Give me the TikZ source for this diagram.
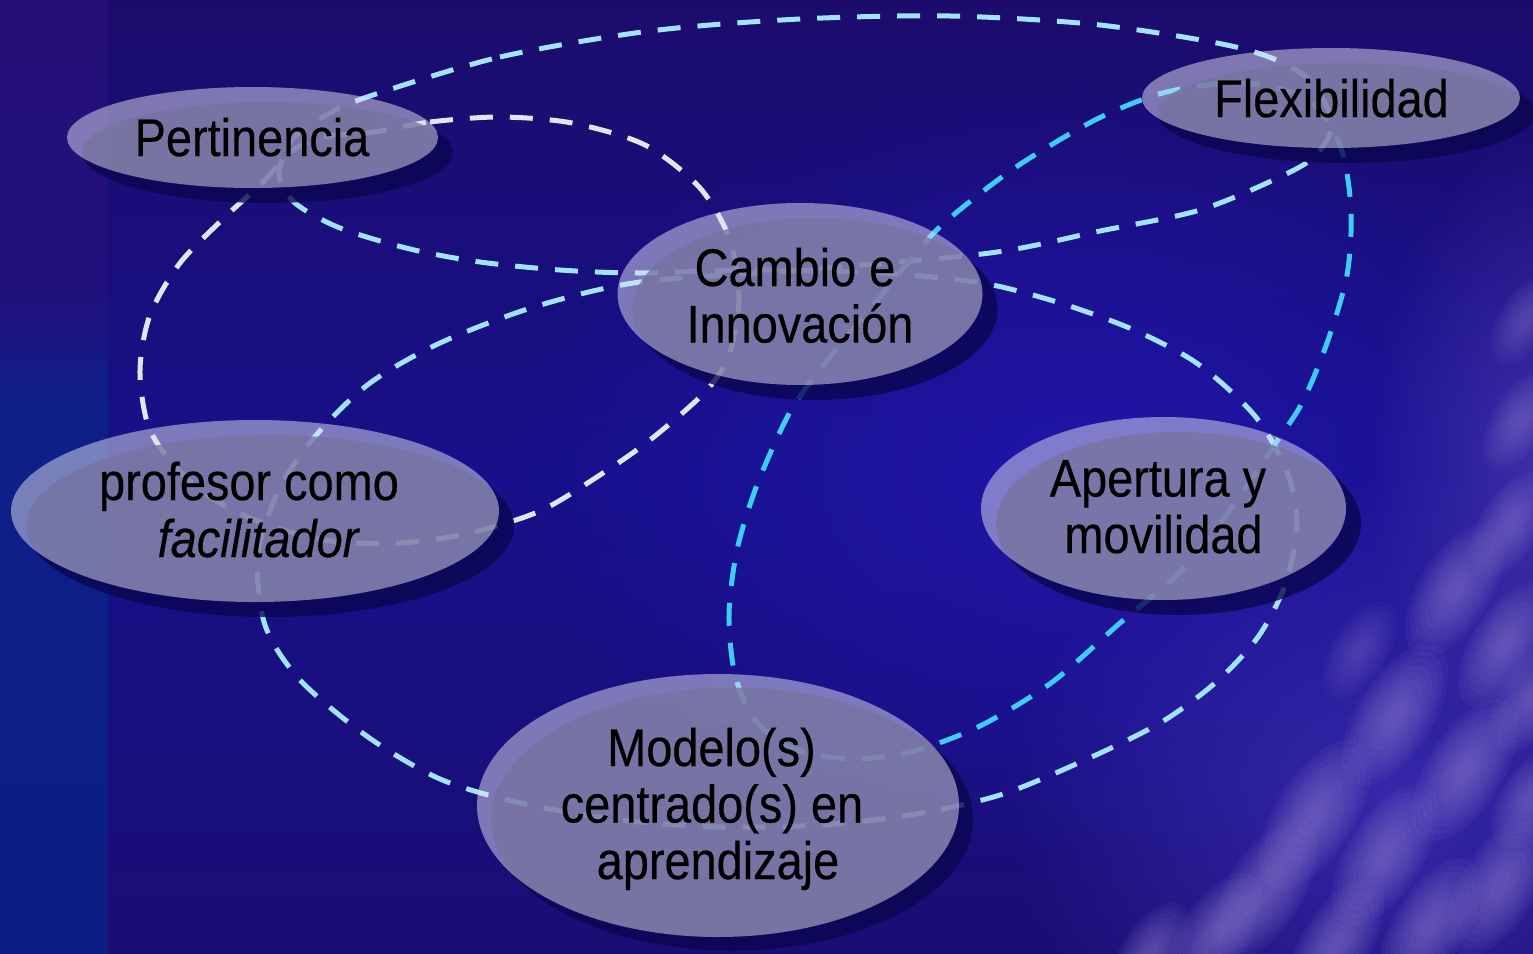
\documentclass[tikz,border=0pt]{standalone}
\usepackage{fontspec}
\setmainfont{Liberation Sans}[FakeStretch=0.885, FakeBold=0.35]
\usetikzlibrary{shapes.geometric,fadings}
\definecolor{bgtop}{HTML}{1B0C6C}
\definecolor{bgmid}{HTML}{17108A}
\definecolor{bgbot}{HTML}{1A0E74}
\definecolor{glowc}{HTML}{2418B6}
\definecolor{hazeR}{HTML}{4A38B0}
\definecolor{hazeL}{HTML}{3A2CB0}
\definecolor{blobc}{HTML}{9484D4}
\definecolor{lstripA}{HTML}{2D0F70}
\definecolor{lstripB}{HTML}{22107C}
\definecolor{lstripC}{HTML}{0E1F88}
\definecolor{lstripD}{HTML}{0A1B80}
\definecolor{lineA}{HTML}{A0E4FF}
\definecolor{lineB}{HTML}{DDE8EF}
\definecolor{lineC}{HTML}{3DCDF5}
\definecolor{shad}{HTML}{0A0650}
\definecolor{ellfill}{HTML}{E2E2F2}
\pgfdeclareverticalshading{lstrip}{100bp}{color(0bp)=(lstripD); color(54bp)=(lstripC); color(60bp)=(lstripB); color(100bp)=(lstripA)}
\tikzfading[name=softedge, inner color=transparent!0, outer color=transparent!100]
\newcommand\softblob[5]{%
  \foreach \k in {0,...,8}{%
    \pgfmathsetmacro\brx{#3*(1-\k*0.1)}%
    \pgfmathsetmacro\bry{#4*(1-\k*0.1)}%
    \fill[blobc, fill opacity=#5, rotate around={58:(#1,#2)}] (#1,#2) ellipse [x radius=\brx pt, y radius=\bry pt];}}
\begin{document}
\begin{tikzpicture}[x=1pt,y=-1pt,
  wave/.style={line width=5pt, dash pattern=on 23pt off 17pt, line cap=butt},
  curveA/.style={wave, draw=lineA},
  curveB/.style={wave, draw=lineB},
  curveC/.style={wave, draw=lineC},
  bubble/.style={ellipse, inner sep=0pt, draw=none, fill=ellfill, fill opacity=0.5},
  bubshadow/.style={ellipse, inner sep=0pt, draw=none, fill=shad, fill opacity=0.8},
  lbl/.style={anchor=base, inner sep=0pt, outer sep=0pt, text=black, font=\fontsize{53}{57}\selectfont}]
\useasboundingbox (0,0) rectangle (1533,953);
\clip (0,0) rectangle (1533,953);
% ---------- background ----------
\fill[top color=bgtop, bottom color=bgbot, middle color=bgmid] (0,0) rectangle (1533,953);
\fill[glowc, path fading=softedge, fill opacity=0.7] (1080,470) ellipse [x radius=560pt, y radius=400pt];
\fill[hazeL, path fading=softedge, fill opacity=0.9] (1400,800) ellipse [x radius=400pt, y radius=330pt];
\fill[hazeR, path fading=softedge, fill opacity=0.8] (1545,470) ellipse [x radius=180pt, y radius=340pt];
\fill[shading=lstrip] (0,0) rectangle (108,953);
\softblob{1455}{590}{75}{36}{0.075}
\softblob{1505}{645}{70}{34}{0.075}
\softblob{1395}{715}{80}{38}{0.08}
\softblob{1465}{770}{80}{38}{0.08}
\softblob{1530}{700}{60}{32}{0.07}
\softblob{1315}{815}{85}{40}{0.08}
\softblob{1385}{855}{80}{38}{0.08}
\softblob{1265}{890}{80}{38}{0.08}
\softblob{1215}{935}{70}{34}{0.08}
\softblob{1500}{885}{80}{38}{0.08}
\softblob{1430}{925}{75}{36}{0.08}
\softblob{1335}{945}{75}{34}{0.08}
\softblob{1150}{955}{60}{30}{0.07}
\softblob{1530}{800}{55}{30}{0.07}
\softblob{1510}{525}{60}{30}{0.065}
\softblob{1520}{420}{55}{28}{0.06}
\softblob{1525}{320}{50}{26}{0.05}
\softblob{1360}{650}{55}{28}{0.045}
% ---------- curve waypoints ----------
\coordinate (A1) at (373,95);   \coordinate (A2) at (500,57);   \coordinate (A3) at (650,31);
\coordinate (A4) at (800,19);   \coordinate (A5) at (950,16);   \coordinate (A6) at (1100,25);
\coordinate (A7) at (1240,48);  \coordinate (A8) at (1305,76);  \coordinate (A9) at (1332,122);
\coordinate (A10) at (1316,155); \coordinate (A11) at (1282,176); \coordinate (A12) at (1200,210);
\coordinate (A13) at (1100,231); \coordinate (A14) at (990,253);  \coordinate (A15) at (800,270);
\coordinate (A16) at (640,282);  \coordinate (A17) at (534,307);  \coordinate (A18) at (440,343);
\coordinate (A19) at (370,383);  \coordinate (A20) at (318,433);  \coordinate (A21) at (280,487);
\coordinate (A22) at (258,555);  \coordinate (A23) at (265,625);  \coordinate (A24) at (300,680);
\coordinate (A25) at (368,737);  \coordinate (A26) at (440,779);  \coordinate (A27) at (520,803);
\coordinate (A28) at (620,820);  \coordinate (A29) at (720,827);  \coordinate (A30) at (820,825);
\coordinate (A31) at (910,815);  \coordinate (A32) at (1000,795); \coordinate (A33) at (1085,760);
\coordinate (A34) at (1160,723); \coordinate (A35) at (1215,683); \coordinate (A36) at (1258,637);
\coordinate (A37) at (1285,585); \coordinate (A38) at (1297,525); \coordinate (A39) at (1287,472);
\coordinate (A40) at (1255,416); \coordinate (A41) at (1198,364); \coordinate (A42) at (1134,330);
\coordinate (A43) at (1060,303); \coordinate (A44) at (982,283);  \coordinate (A45) at (880,273);
\coordinate (A46) at (750,270);  \coordinate (A47) at (640,273);  \coordinate (A48) at (560,270);
\coordinate (A49) at (480,262);  \coordinate (A50) at (410,249);  \coordinate (A51) at (340,228);
\coordinate (A52) at (295,203);  \coordinate (A53) at (279,175);  \coordinate (A54) at (292,140);
\coordinate (A55) at (330,113);
\coordinate (B1) at (368,133);  \coordinate (B2) at (430,122);  \coordinate (B3) at (500,117);
\coordinate (B4) at (572,123);  \coordinate (B5) at (645,145);  \coordinate (B6) at (700,188);
\coordinate (B7) at (730,240);  \coordinate (B8) at (739,300);  \coordinate (B9) at (729,355);
\coordinate (B10) at (705,392); \coordinate (B11) at (650,440); \coordinate (B12) at (600,475);
\coordinate (B13) at (540,511); \coordinate (B14) at (470,533); \coordinate (B15) at (400,543);
\coordinate (B16) at (330,541); \coordinate (B17) at (265,524); \coordinate (B18) at (210,497);
\coordinate (B19) at (172,463); \coordinate (B20) at (148,425); \coordinate (B21) at (140,370);
\coordinate (B22) at (150,315); \coordinate (B23) at (180,263); \coordinate (B24) at (225,217);
\coordinate (B25) at (262,183); \coordinate (B26) at (293,150); \coordinate (B27) at (328,136);
\coordinate (C1) at (951,217);  \coordinate (C2) at (1016,167); \coordinate (C3) at (1095,120);
\coordinate (C4) at (1159,94);  \coordinate (C5) at (1217,84);  \coordinate (C6) at (1262,85);
\coordinate (C7) at (1312,102); \coordinate (C8) at (1341,148); \coordinate (C9) at (1351,210);
\coordinate (C10) at (1347,275); \coordinate (C11) at (1327,343); \coordinate (C12) at (1302,403);
\coordinate (C13) at (1273,447); \coordinate (C14) at (1230,510); \coordinate (C15) at (1180,572);
\coordinate (C16) at (1120,623); \coordinate (C17) at (1051,683); \coordinate (C18) at (978,727);
\coordinate (C19) at (910,752);  \coordinate (C20) at (850,759);  \coordinate (C21) at (792,748);
\coordinate (C22) at (755,720);  \coordinate (C23) at (735,675);  \coordinate (C24) at (729,615);
\coordinate (C25) at (737,550);  \coordinate (C26) at (757,485);  \coordinate (C27) at (790,412);
\coordinate (C28) at (826,362);  \coordinate (C29) at (876,302);  \coordinate (C30) at (921,247);
% ---------- dashed loops ----------
\draw[curveB] plot[smooth cycle] coordinates {(B1) (B2) (B3) (B4) (B5) (B6) (B7) (B8) (B9) (B10) (B11) (B12) (B13) (B14) (B15) (B16) (B17) (B18) (B19) (B20) (B21) (B22) (B23) (B24) (B25) (B26) (B27)};
\draw[curveA] plot[smooth cycle] coordinates {(A1) (A2) (A3) (A4) (A5) (A6) (A7) (A8) (A9) (A10) (A11) (A12) (A13) (A14) (A15) (A16) (A17) (A18) (A19) (A20) (A21) (A22) (A23) (A24) (A25) (A26) (A27) (A28) (A29) (A30) (A31) (A32) (A33) (A34) (A35) (A36) (A37) (A38) (A39) (A40) (A41) (A42) (A43) (A44) (A45) (A46) (A47) (A48) (A49) (A50) (A51) (A52) (A53) (A54) (A55)};
\draw[curveC] plot[smooth cycle] coordinates {(C1) (C2) (C3) (C4) (C5) (C6) (C7) (C8) (C9) (C10) (C11) (C12) (C13) (C14) (C15) (C16) (C17) (C18) (C19) (C20) (C21) (C22) (C23) (C24) (C25) (C26) (C27) (C28) (C29) (C30)};
% ---------- shadows ----------
\node[bubshadow, minimum width=371pt, minimum height=101pt] (pert-sh) at (267.5,152.5) {};
\node[bubshadow, minimum width=378pt, minimum height=100pt] (flex-sh) at (1346,113) {};
\node[bubshadow, minimum width=365pt, minimum height=182pt] (camb-sh) at (815,309) {};
\node[bubshadow, minimum width=488pt, minimum height=182pt] (prof-sh) at (270,526) {};
\node[bubshadow, minimum width=365pt, minimum height=183pt] (aper-sh) at (1178.5,523.5) {};
\node[bubshadow, minimum width=482pt, minimum height=263pt] (mod-sh) at (732,819) {};
% ---------- bubbles ----------
\node[bubble, minimum width=371pt, minimum height=101pt] (pert) at (252.5,137.5) {};
\node[bubble, minimum width=378pt, minimum height=100pt] (flex) at (1331,98) {};
\node[bubble, minimum width=365pt, minimum height=182pt] (camb) at (800,294) {};
\node[bubble, minimum width=488pt, minimum height=182pt] (prof) at (255,511) {};
\node[bubble, minimum width=365pt, minimum height=183pt] (aper) at (1163.5,508.5) {};
\node[bubble, minimum width=482pt, minimum height=263pt] (mod) at (718,805.5) {};
% ---------- labels ----------
\node[lbl] (pert-t) at (252,156) {Pertinencia};
\node[lbl] (flex-t) at (1331.5,117) {Flexibilidad};
\node[lbl] (camb-t1) at (795,286) {Cambio e};
\node[lbl] (camb-t2) at (800,342.5) {Innovación};
\node[lbl] (prof-t1) at (249,500) {profesor como};
\node[lbl] (prof-t2) at (258,557) {\itshape facilitador};
\node[lbl] (aper-t1) at (1158,496.5) {Apertura y};
\node[lbl] (aper-t2) at (1163.5,553) {movilidad};
\node[lbl] (mod-t1) at (711.5,766) {Modelo(s)};
\node[lbl] (mod-t2) at (712,822.5) {centrado(s) en};
\node[lbl] (mod-t3) at (718,879) {aprendizaje};
\end{tikzpicture}
\end{document}
